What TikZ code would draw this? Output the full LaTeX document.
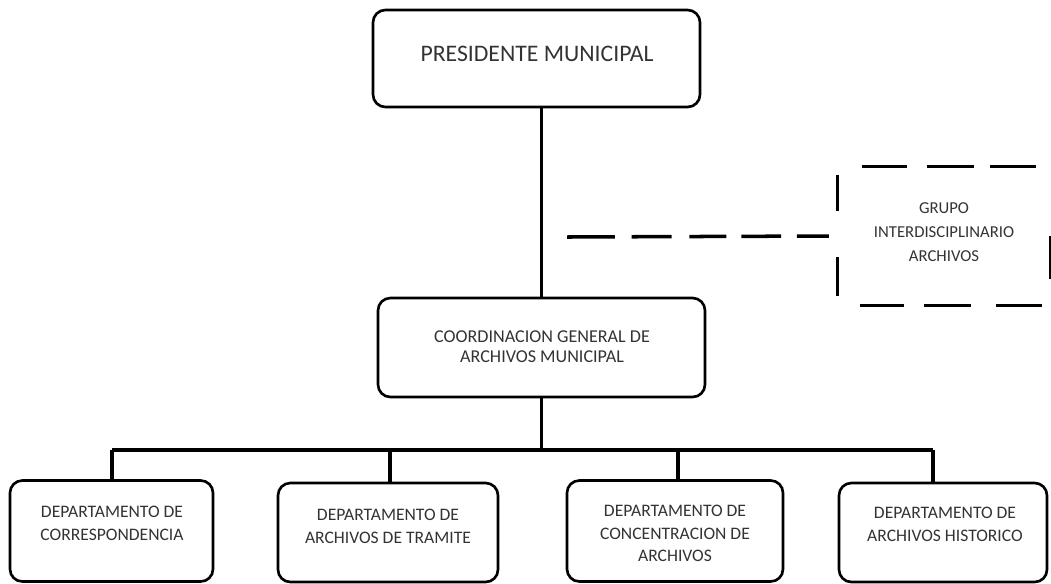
\documentclass[tikz,border=0pt]{standalone}
\usepackage{fontspec}
\setmainfont{Carlito}
\begin{document}
\begin{tikzpicture}[x=0.02cm,y=-0.02cm,
  box/.style={draw, line width=1.5pt, rounded corners=7pt, inner sep=0pt},
  dbox/.style={inner sep=0pt},
  dside/.style={line width=2pt},
  txt/.style={align=center, text=black!80, font=\fontsize{10}{13}\selectfont, inner sep=0pt},
  link/.style={line width=1.8pt}]
\useasboundingbox (0,0) rectangle (1051,583);
% boxes
\node[box, minimum width=6.54cm, minimum height=1.94cm] (pres) at (536.5,58.5) {};
\node[box, minimum width=6.54cm, minimum height=1.98cm] (coord) at (541.5,347.5) {};
\node[dbox, minimum width=4.24cm, minimum height=2.76cm] (grupo) at (944,236) {};
\node[box, minimum width=4.06cm, minimum height=2.02cm] (dep1) at (111.5,531) {};
\node[box, minimum width=4.4cm, minimum height=1.98cm] (dep2) at (388,532.5) {};
\node[box, minimum width=4.32cm, minimum height=2.02cm] (dep3) at (675,531) {};
\node[box, minimum width=4.16cm, minimum height=1.98cm] (dep4) at (943,532.5) {};
% dashed sides of the group box
\draw[dside, dash pattern=on 0pt off 13.6pt on 26.1pt off 11.3pt on 26.6pt off 9.1pt on 26.1pt off 20pt]
  (grupo.north west) -- (grupo.north east);
\draw[dside, dash pattern=on 0pt off 12.5pt on 25.5pt off 11.3pt on 26.6pt off 14.2pt on 26.1pt off 20pt]
  (grupo.south west) -- (grupo.south east);
\draw[dside, dash pattern=on 0pt off 4.5pt on 21pt off 26.1pt on 22.1pt off 20pt]
  (grupo.north west) -- (grupo.south west);
\draw[dside, dash pattern=on 0pt off 39.7pt on 24.4pt off 30pt]
  (grupo.north east) -- (grupo.south east);
% texts
\node[txt, font=\fontsize{13.5}{16}\selectfont] (pres-t) at (537,54) {PRESIDENTE MUNICIPAL};
\node[txt, font=\fontsize{10.3}{11.5}\selectfont] (coord-t) at (542,347) {COORDINACION GENERAL DE\\ARCHIVOS MUNICIPAL};
\node[txt, font=\fontsize{9.5}{13.5}\selectfont] (grupo-t) at (944,232) {GRUPO\\INTERDISCIPLINARIO\\ARCHIVOS};
\node[txt] (dep1-t) at (112,523.5) {DEPARTAMENTO DE\\CORRESPONDENCIA};
\node[txt] (dep2-t) at (388,526.5) {DEPARTAMENTO DE\\ARCHIVOS DE TRAMITE};
\node[txt] (dep3-t) at (675,533.5) {DEPARTAMENTO DE\\CONCENTRACION DE\\ARCHIVOS};
\node[txt] (dep4-t) at (945,524) {DEPARTAMENTO DE\\ARCHIVOS HISTORICO};
% connectors
\coordinate (g0) at (567,237);
\coordinate (b1) at (112,450);
\coordinate (b2) at (390,450);
\coordinate (b3) at (678,450);
\coordinate (b4) at (933,450);
\draw[link] (coord.north |- pres.south) -- (coord.north);
\draw[link] (coord.south) -- (coord.south |- b1);
\draw[link] (b1) -- (b4);
\draw[link] (b1) -- (b1 |- dep1.north);
\draw[link] (b2) -- (b2 |- dep2.north);
\draw[link] (b3) -- (b3 |- dep3.north);
\draw[link] (b4) -- (b4 |- dep4.north);
\draw[dside, dash pattern=on 27.2pt off 9.6pt on 22.7pt off 10.2pt on 21pt off 8.5pt on 22.7pt off 9pt on 18.1pt off 20pt]
  (g0) -- ([xshift=-4.5pt]grupo.west);
\end{tikzpicture}
\end{document}
